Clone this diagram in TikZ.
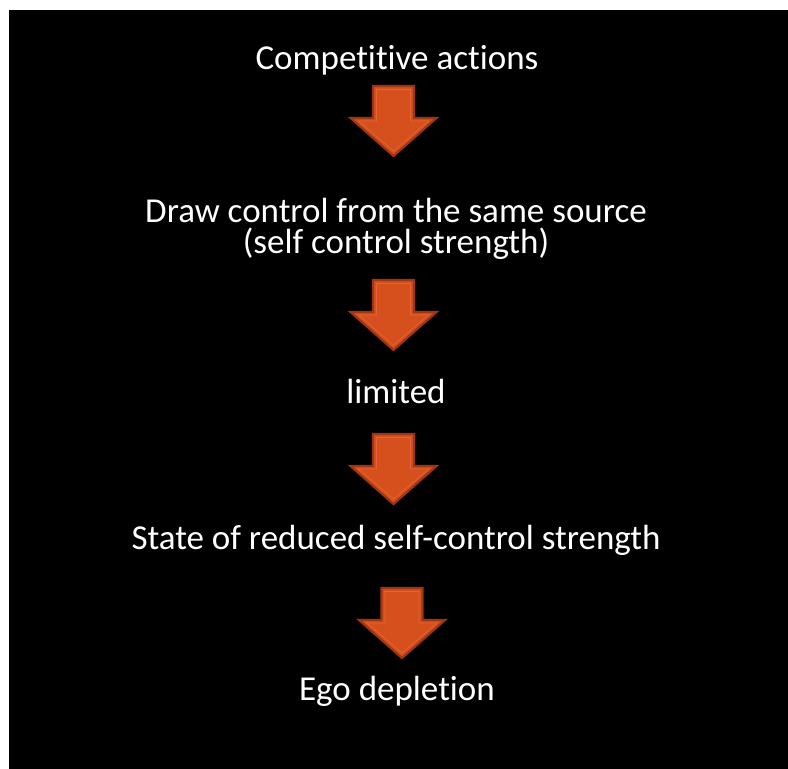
\documentclass[tikz,border=0pt]{standalone}
\usepackage{fontspec}
\setmainfont{Carlito}[Ligatures=CommonOff]
\definecolor{arrfill}{RGB}{214,80,30}
\definecolor{arrdark}{RGB}{158,54,18}
\definecolor{arrlight}{RGB}{226,100,52}
\tikzset{
  label text/.style={text=white, inner sep=0pt, align=center, font=\fontsize{35}{31}\selectfont},
  arrow outer/.style={fill=arrfill, draw=arrdark, line width=2.2pt, line join=miter},
  arrow inner/.style={draw=arrlight, line width=0.7pt, line join=miter}
}
% block arrow: #1 = coordinate name at top-centre of shaft
\newcommand\myblockarrow[1]{%
  \draw[arrow outer] ([xshift=-20.5pt]#1) -- ([xshift=20.5pt]#1) -- ([xshift=20.5pt,yshift=-32pt]#1)
     -- ([xshift=43pt,yshift=-32pt]#1) -- ([yshift=-70pt]#1) -- ([xshift=-43pt,yshift=-32pt]#1)
     -- ([xshift=-20.5pt,yshift=-32pt]#1) -- cycle;
  \draw[arrow inner] ([xshift=-17pt,yshift=-3.5pt]#1) -- ([xshift=17pt,yshift=-3.5pt]#1) -- ([xshift=17pt,yshift=-35pt]#1)
     -- ([xshift=35pt,yshift=-35pt]#1) -- ([yshift=-65pt]#1) -- ([xshift=-35pt,yshift=-35pt]#1)
     -- ([xshift=-17pt,yshift=-35pt]#1) -- cycle;
}
\begin{document}
\begin{tikzpicture}[x=1pt,y=-1pt]
\useasboundingbox (0,0) rectangle (788,769);
\fill[white] (0,0) rectangle (788,769);
\fill[black] (9,10) rectangle (788,769);

\node[label text, anchor=base] (t1) at (397,69) {Competitive actions};
\node[label text, anchor=base] (t2) at (396,253) {Draw control from the same source\\(self control strength)};
\node[label text, anchor=base] (t3) at (396,403) {limited};
\node[label text, anchor=base] (t4) at (396,549) {State of reduced self-control strength};
\node[label text, anchor=base] (t5) at (397,700) {Ego depletion};

\coordinate (a1) at (393.5,86);
\coordinate (a2) at (393.5,280);
\coordinate (a3) at (393.5,434);
\coordinate (a4) at (402,588);
\myblockarrow{a1}
\myblockarrow{a2}
\myblockarrow{a3}
\myblockarrow{a4}
\end{tikzpicture}
\end{document}
